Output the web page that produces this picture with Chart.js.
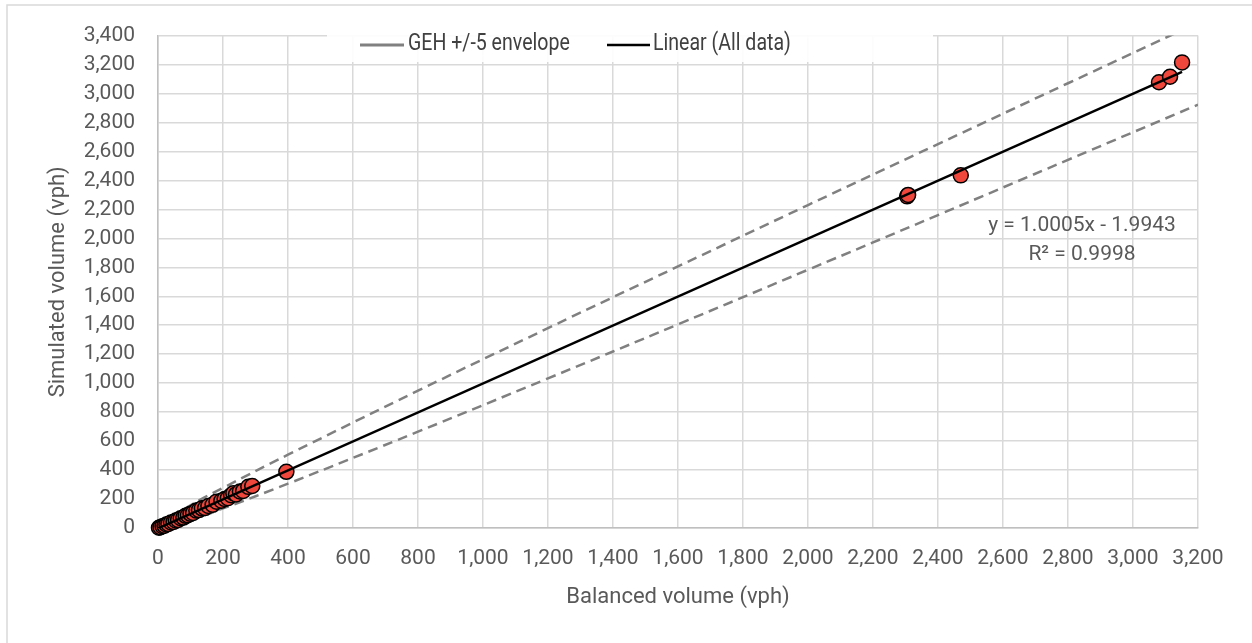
<!DOCTYPE html>
<html>
<head>
<meta charset="utf-8">
<script src="https://cdn.jsdelivr.net/npm/chart.js@4/dist/chart.umd.min.js"></script>
<style>
  html, body { margin: 0; padding: 0; background: #fff; }
  #wrap { width: 1252px; height: 643px; }
</style>
</head>
<body>
<div id="wrap"><canvas id="chart" width="1252" height="643"></canvas></div>
<script>
// Observed counts (vph)
const balanced  = [3, 8, 14, 20, 26, 32, 40, 48, 55, 62, 70, 78, 85, 92, 100, 108, 118, 126, 135, 145, 155, 168, 180, 195, 205, 215, 225, 232, 240, 252, 262, 278, 290, 395, 2305, 2308, 2470, 3080, 3114, 3151];
const simulated = [2, 6, 12, 16, 24, 28, 38, 42, 52, 56, 68, 72, 84, 88, 98, 104, 120, 124, 136, 138, 152, 160, 182, 188, 200, 206, 226, 240, 232, 252, 256, 284, 290, 388, 2290, 2300, 2435, 3078, 3116, 3215];

// GEH +/-5 envelope
const envX     = [0, 100, 200, 400, 800, 1200, 1600, 2000, 2400, 2800, 3200];
const envUpper = [12, 157, 277, 506, 948, 1380, 1806, 2230, 2651, 3071, 3489];
const envLower = [0, 56, 135, 306, 665, 1033, 1406, 1783, 2161, 2542, 2923];

// Linear trendline end points
const trendX = [0, 3151];
const trendY = [-2, 3150];

const xTicks = { min: 0, max: 3200, step: 200 };
const yTicks = { min: 0, max: 3400, step: 200 };

const toPts = (xs, ys) => xs.map((x, i) => ({ x: x, y: ys[i] }));

const FONT = 'Roboto, "Open Sans", sans-serif';
const GREY_TXT = '#595959';
const GRID = '#d9d9d9';

// condensed-looking text: squeeze horizontally
function narrowText(ctx, text, x, y, sx) {
    ctx.save();
    ctx.translate(x, y);
    ctx.scale(sx, 1);
    ctx.fillText(text, 0, 0);
    ctx.restore();
}

// frame, legend box and trendline label
const extras = {
    id: 'extras',
    beforeDraw(chart) {
        const ctx = chart.ctx;
        ctx.save();
        ctx.strokeStyle = GRID;
        ctx.lineWidth = 1.5;
        ctx.beginPath();
        ctx.moveTo(7, 643);
        ctx.lineTo(7, 5);
        ctx.lineTo(1252, 5);
        ctx.stroke();
        ctx.restore();
    },
    afterDatasetsDraw(chart) {
        const ctx = chart.ctx;
        ctx.save();
        // legend
        ctx.fillStyle = 'rgba(255,255,255,0.92)';
        ctx.fillRect(327, 21, 606, 41);
        ctx.lineCap = 'butt';
        ctx.lineWidth = 3;
        ctx.strokeStyle = '#808080';
        ctx.beginPath(); ctx.moveTo(360, 45); ctx.lineTo(404, 45); ctx.stroke();
        ctx.lineWidth = 2.5;
        ctx.strokeStyle = '#000';
        ctx.beginPath(); ctx.moveTo(607, 45); ctx.lineTo(650, 45); ctx.stroke();
        ctx.font = '23px ' + FONT;
        ctx.fillStyle = '#404040';
        ctx.textBaseline = 'middle';
        ctx.textAlign = 'left';
        narrowText(ctx, 'GEH +/-5 envelope', 408, 44, 0.85);
        narrowText(ctx, 'Linear (All data)', 653, 44, 0.85);
        // equation
        ctx.font = '21px ' + FONT;
        ctx.fillStyle = GREY_TXT;
        ctx.textAlign = 'center';
        ctx.fillText('y = 1.0005x - 1.9943', 1082, 226);
        ctx.fillText('R² = 0.9998', 1082, 255);
        ctx.restore();
    }
};

const ctx = document.getElementById('chart').getContext('2d');

new Chart(ctx, {
    type: 'scatter',
    data: {
        datasets: [
            {
                label: 'Linear (All data)',
                data: toPts(trendX, trendY),
                showLine: true,
                borderColor: '#000',
                borderWidth: 2.5,
                pointRadius: 0,
                order: 0
            },
            {
                label: 'All data',
                data: toPts(balanced, simulated),
                backgroundColor: '#F0473C',
                borderColor: '#000',
                borderWidth: 1.5,
                pointRadius: 7.5,
                clip: false,
                order: 1
            },
            {
                label: 'GEH +5',
                data: toPts(envX, envUpper),
                showLine: true,
                borderColor: '#808080',
                borderWidth: 2.5,
                borderDash: [10, 6],
                pointRadius: 0,
                tension: 0.4,
                order: 2
            },
            {
                label: 'GEH -5',
                data: toPts(envX, envLower),
                showLine: true,
                borderColor: '#808080',
                borderWidth: 2.5,
                borderDash: [10, 6],
                pointRadius: 0,
                tension: 0.4,
                order: 2
            }
        ]
    },
    options: {
        responsive: false,
        animation: false,
        events: [],
        layout: { padding: { left: 0, right: 54, top: 34, bottom: 0 } },
        plugins: {
            legend: { display: false },
            tooltip: { enabled: false }
        },
        scales: {
            x: {
                type: 'linear',
                min: xTicks.min,
                max: xTicks.max,
                afterFit: (s) => { s.height = 115; },
                ticks: {
                    stepSize: xTicks.step,
                    color: GREY_TXT,
                    font: { family: FONT, size: 21 },
                    padding: 18,
                    maxRotation: 0
                },
                grid: { color: GRID, lineWidth: 1.5, drawTicks: false },
                border: { color: '#bfbfbf', width: 1.5 },
                title: {
                    display: true,
                    text: 'Balanced volume (vph)',
                    color: GREY_TXT,
                    font: { family: FONT, size: 22 },
                    padding: { top: 0, bottom: 32 }
                }
            },
            y: {
                type: 'linear',
                min: yTicks.min,
                max: yTicks.max,
                afterFit: (s) => { s.width = 158; },
                ticks: {
                    stepSize: yTicks.step,
                    color: GREY_TXT,
                    font: { family: FONT, size: 21 },
                    padding: 23
                },
                grid: { color: GRID, lineWidth: 1.5, drawTicks: false },
                border: { color: '#bfbfbf', width: 1.5 },
                title: {
                    display: true,
                    text: 'Simulated volume (vph)',
                    color: GREY_TXT,
                    font: { family: FONT, size: 22 },
                    padding: { top: 45, bottom: 0 }
                }
            }
        }
    },
    plugins: [extras]
});
</script>
</body>
</html>
